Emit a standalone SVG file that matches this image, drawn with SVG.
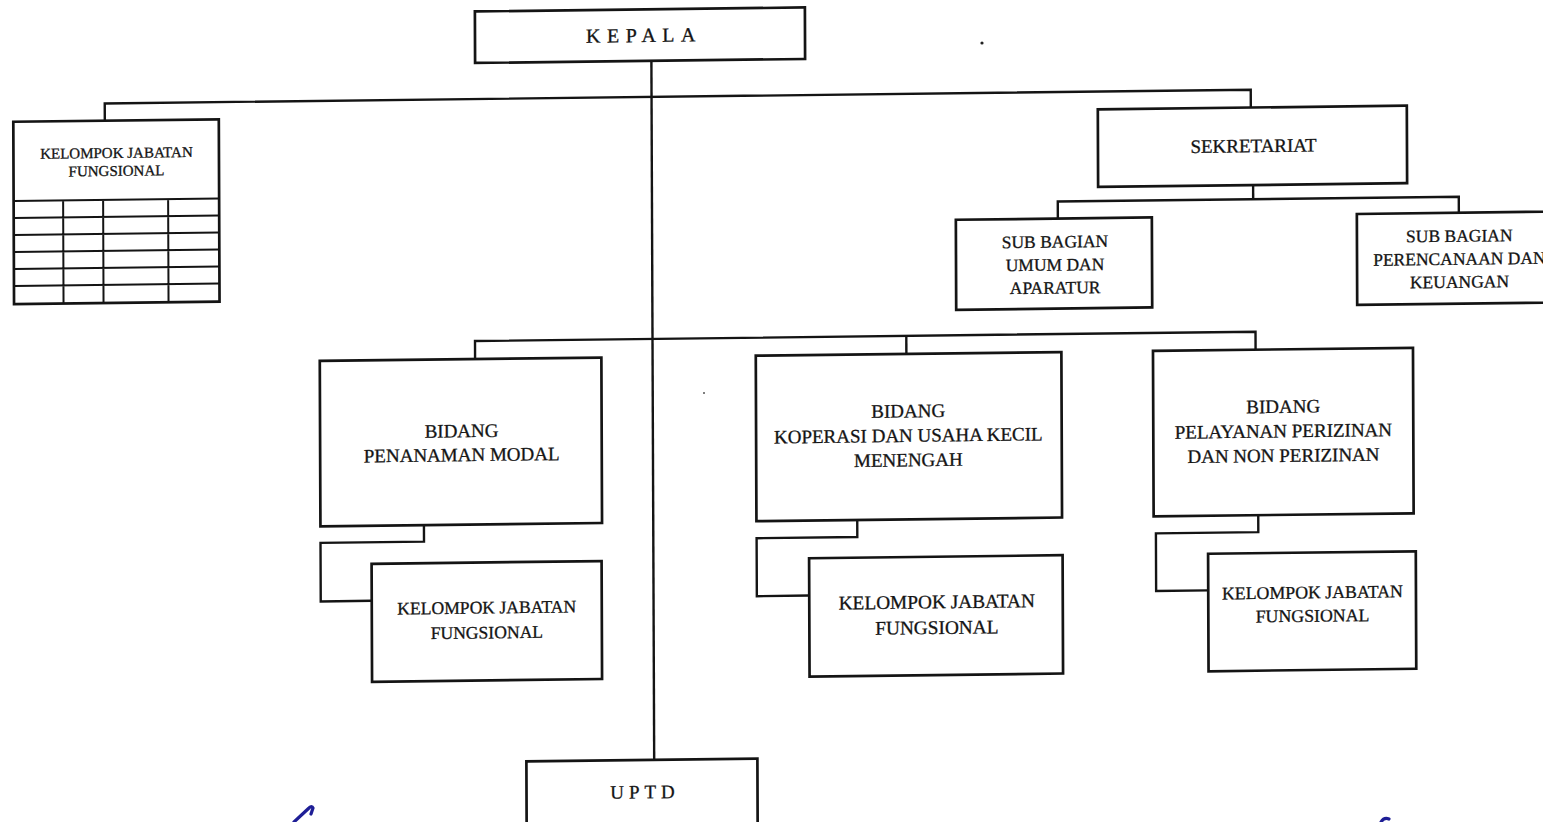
<svg xmlns="http://www.w3.org/2000/svg" width="1543" height="822" viewBox="0 0 1543 822">
<style>
.box{fill:#fff;stroke:#141414;stroke-width:2.7}
.ln{fill:none;stroke:#141414;stroke-width:2.4}
.grid{fill:none;stroke:#141414;stroke-width:2}
text{font-family:"Liberation Serif","Times New Roman",serif;fill:#141414;stroke:#141414;stroke-width:0.3;text-anchor:middle}
.t19{font-size:19px}
.t17{font-size:17.5px}
.t15{font-size:15px}
.pen{fill:none;stroke:#1e1e96;stroke-width:3.2;stroke-linecap:round}
</style>
<rect width="1543" height="822" fill="#fff"/>
<g id="diagram" transform="matrix(1,-0.012,0.004,1,-1.644,9.252)">
<g id="connectors">
<path class="ln" d="M652.8 59.4 V758.5"/>
<path class="ln" d="M106 112.7 V95.5 H1252 V113.3"/>
<path class="ln" d="M1254 190.8 V205"/>
<path class="ln" d="M1058.6 222 V205 H1459.6 V221"/>
<path class="ln" d="M475.3 355.5 V337.5 H1255.8 V355.5"/>
<path class="ln" d="M906.6 337.5 V355.5"/>
<path class="ln" d="M423.5 521 V537.5 H320 V596 H371"/>
<path class="ln" d="M856.8 521 V538 H756.1 V596 H808.5"/>
<path class="ln" d="M1257.8 521 V538 H1155.4 V595.6 H1207.5"/>
</g>
<g id="kepala">
<rect class="box" x="476.5" y="7.9" width="330" height="51.5"/>
<text x="645.5" y="40.5" style="font-size:20px;letter-spacing:6.5px">KEPALA</text>
</g>
<g id="kjf-top">
<rect class="box" x="14.5" y="112.7" width="205.5" height="182.3"/>
<path class="grid" d="M14.5 192 H220 M14.5 209 H220 M14.5 226 H220 M14.5 243 H220 M14.5 260 H220 M14.5 277 H220 M64 192 V295 M104 192 V295 M169 192 V295"/>
<text class="t15" x="117.5" y="150">KELOMPOK JABATAN</text>
<text class="t15" x="117.5" y="168">FUNGSIONAL</text>
</g>
<g id="sekretariat">
<rect class="box" x="1099" y="113.3" width="309" height="77.5"/>
<text class="t19" x="1254.5" y="158">SEKRETARIAT</text>
</g>
<g id="subbag-umum">
<rect class="box" x="956.6" y="222" width="196" height="90"/>
<text class="t17" x="1055.6" y="251">SUB BAGIAN</text>
<text class="t17" x="1055.6" y="274">UMUM DAN</text>
<text class="t17" x="1055.6" y="297">APARATUR</text>
</g>
<g id="subbag-perencanaan">
<rect class="box" x="1357.6" y="221" width="210" height="91"/>
<text class="t17" x="1460" y="250">SUB BAGIAN</text>
<text class="t17" x="1460" y="273">PERENCANAAN DAN</text>
<text class="t17" x="1460" y="296">KEUANGAN</text>
</g>
<g id="bidang-penanaman">
<rect class="box" x="320" y="355.5" width="281.6" height="165.5"/>
<text class="t19" x="461.5" y="433.5">BIDANG</text>
<text class="t19" x="461.5" y="457.5">PENANAMAN MODAL</text>
</g>
<g id="kjf-penanaman">
<rect class="box" x="371" y="559" width="230" height="118"/>
<text x="486" y="610" style="font-size:17.6px">KELOMPOK JABATAN</text>
<text x="486" y="635" style="font-size:17.6px">FUNGSIONAL</text>
</g>
<g id="bidang-koperasi">
<rect class="box" x="756" y="355.5" width="305.6" height="165.5"/>
<text class="t19" x="908.2" y="419">BIDANG</text>
<text class="t19" x="908.2" y="443.5">KOPERASI DAN USAHA KECIL</text>
<text class="t19" x="908.2" y="468">MENENGAH</text>
</g>
<g id="kjf-koperasi">
<rect class="box" x="808.5" y="558.7" width="253.5" height="118.3"/>
<text x="936" y="610.3" style="font-size:19.3px">KELOMPOK JABATAN</text>
<text x="936" y="636" style="font-size:19.3px">FUNGSIONAL</text>
</g>
<g id="bidang-pelayanan">
<rect class="box" x="1153.2" y="355.5" width="260" height="165.5"/>
<text class="t19" x="1283.3" y="419">BIDANG</text>
<text class="t19" x="1283.3" y="443.5">PELAYANAN PERIZINAN</text>
<text class="t19" x="1283.3" y="468">DAN NON PERIZINAN</text>
</g>
<g id="kjf-pelayanan">
<rect class="box" x="1207.5" y="559" width="207.7" height="117.5"/>
<text x="1311.7" y="604.8" style="font-size:17.8px">KELOMPOK JABATAN</text>
<text x="1311.7" y="628.2" style="font-size:17.8px">FUNGSIONAL</text>
</g>
<g id="uptd">
<rect class="box" x="525" y="758.5" width="231" height="90"/>
<text x="643.5" y="796.8" style="font-size:19px;letter-spacing:5px">UPTD</text>
</g>
</g>
<circle cx="982" cy="43" r="1.6" fill="#222"/>
<circle cx="704" cy="393" r="1" fill="#555"/>
<path class="pen" d="M294 822 L309 808 Q312 805 313 808 L311 814"/>
<path class="pen" d="M1381 822 Q1384 817 1389 819"/>
</svg>
